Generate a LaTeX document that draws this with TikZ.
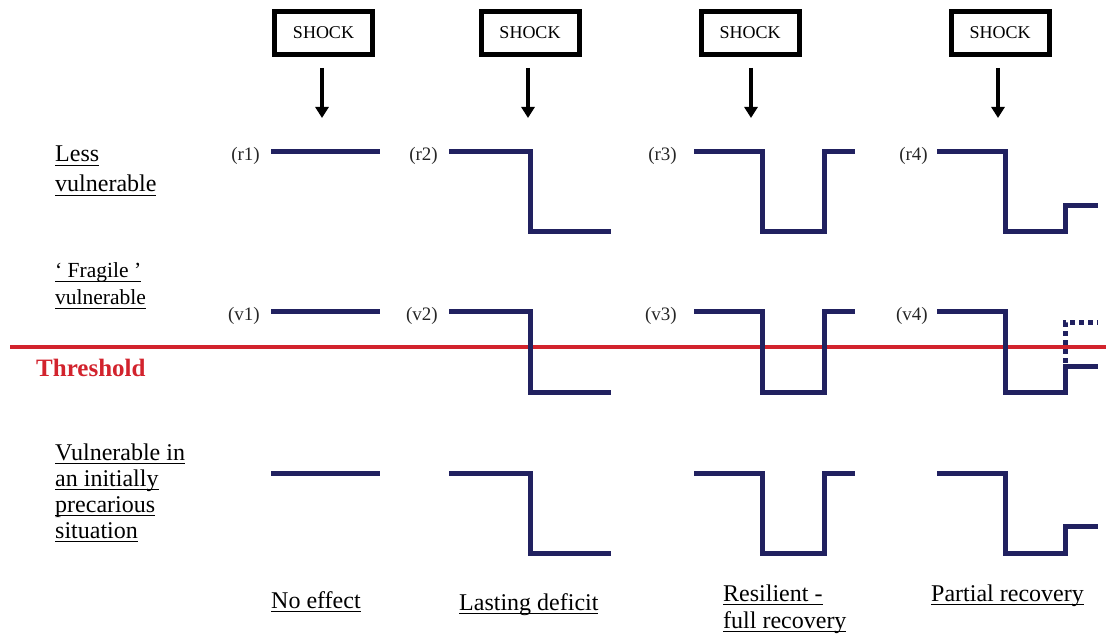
\documentclass[tikz,border=0pt]{standalone}
\usepackage{fontspec}
\setmainfont{Liberation Serif}
\usetikzlibrary{arrows.meta}
\definecolor{navy}{RGB}{33,33,96}
\definecolor{thr}{RGB}{210,35,45}
\newcommand\ulx[1]{\setbox0\hbox{#1}\rlap{\vrule height -2.6pt depth 4.4pt width \wd0}\box0}
\begin{document}
\begin{tikzpicture}[x=1pt,y=-1pt,
 curve/.style={draw=navy,line width=5pt,line join=miter,line cap=butt},
 dotcurve/.style={draw=navy,line width=5pt,dash pattern=on 5pt off 4pt},
 shockbox/.style={draw=black,line width=5pt,minimum width=98pt,minimum height=43pt,inner sep=0pt,font=\fontsize{18}{20}\selectfont},
 shockarrow/.style={line width=4pt,-{Triangle[width=13pt,length=11pt]}},
 lbl/.style={anchor=base west,inner sep=0pt,font=\fontsize{24}{26}\selectfont},
 flbl/.style={anchor=base west,inner sep=0pt,font=\fontsize{21.5}{24}\selectfont},
 tag/.style={anchor=base east,inner sep=0pt,font=\fontsize{19}{21}\selectfont,text=black!85},
]
\useasboundingbox (0,0) rectangle (1106,644);

% shocks
\foreach \i/\bx/\ax in {1/323.5/322, 2/530/528, 3/750/751, 4/1000/998}{
  \node[shockbox] (s\i) at (\bx,33) {SHOCK};
  \coordinate (a\i) at (\ax,118);
  \draw[shockarrow] (\ax,68) -- (a\i);
}

% threshold
\draw[draw=thr,line width=4.5pt] (10,347) -- (1106,347);
\node[anchor=base west,inner sep=0pt,font=\fontsize{25}{27}\selectfont\bfseries,text=thr] (thr) at (36,377) {Threshold};

% row labels
\node[lbl] (l1a) at (55,162) {\ulx{Less}};
\node[lbl] (l1b) at (55,192) {\ulx{vulnerable}};
\node[flbl] (l2a) at (55,278) {\ulx{‘ Fragile ’}};
\node[flbl] (l2b) at (55,305) {\ulx{vulnerable}};
\node[lbl] (l3a) at (55,460) {\ulx{Vulnerable in}};
\node[lbl] (l3b) at (55,486) {\ulx{an initially}};
\node[lbl] (l3c) at (55,512) {\ulx{precarious}};
\node[lbl] (l3d) at (55,538) {\ulx{situation}};

% tags
\node[tag] (r1) at (260,161) {(r1)};
\node[tag] (r2) at (438,161) {(r2)};
\node[tag] (r3) at (677,161) {(r3)};
\node[tag] (r4) at (928,161) {(r4)};
\node[tag] (v1) at (260,321) {(v1)};
\node[tag] (v2) at (438,321) {(v2)};
\node[tag] (v3) at (677,321) {(v3)};
\node[tag] (v4) at (928,321) {(v4)};

% curves: rows at top y = 152, 312, 473 ; drop 80
\foreach \t in {152,312,473}{
  \pgfmathsetmacro{\b}{\t+80}
  \draw[curve] (271,\t) -- (380,\t);
  \draw[curve] (449,\t) -| (530,\b) -- (611,\b);
  \draw[curve] (694,\t) -| (762,\b) -| (824,\t) -- (855,\t);
}
\draw[curve] (937,152) -| (1005,232) -| (1065,206) -- (1098,206);
\draw[curve] (937,312) -| (1005,392) -| (1065,366) -- (1098,366);
\draw[dotcurve] (1065,363) |- (1098,323);
\draw[curve] (937,473) -| (1005,553) -| (1065,526) -- (1098,526);

% column labels
\node[lbl] (c1) at (271,608) {\ulx{No effect}};
\node[lbl] (c2) at (459,610) {\ulx{Lasting deficit}};
\node[lbl] (c3a) at (723,601) {\ulx{Resilient -}};
\node[lbl] (c3b) at (723,628) {\ulx{full recovery}};
\node[lbl] (c4) at (931,601) {\ulx{Partial recovery}};
\end{tikzpicture}
\end{document}
